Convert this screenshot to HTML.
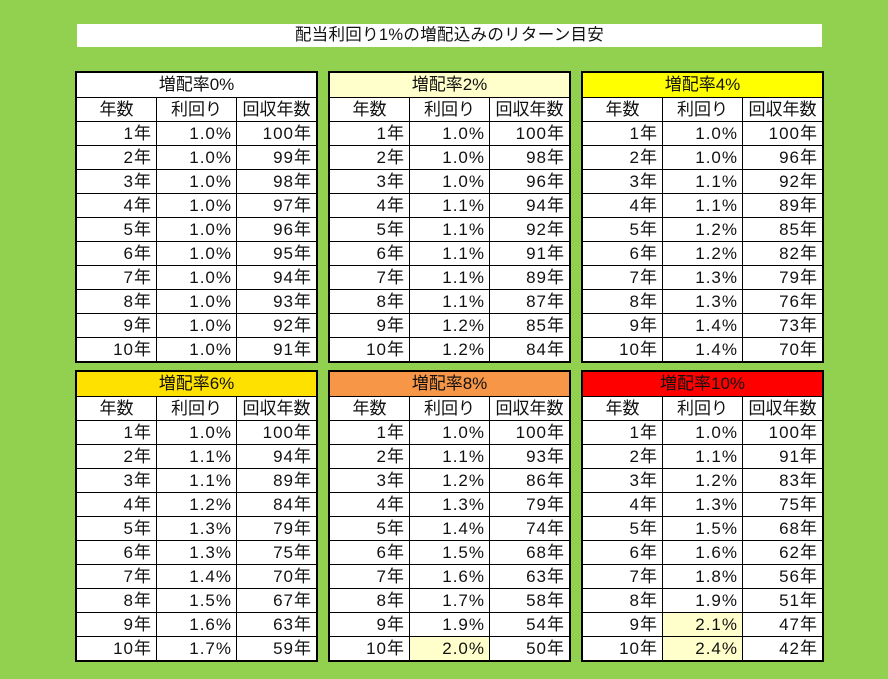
<!DOCTYPE html>
<html><head><meta charset="utf-8">
<style>
html,body{margin:0;padding:0}
body{width:888px;height:679px;background:#92D050;position:relative;overflow:hidden;font-family:"Liberation Sans","Noto Sans CJK JP",sans-serif;color:#111}
.title{position:absolute;left:77px;top:24px;width:745px;height:23px;background:#fff;text-align:center;font-size:16.5px;line-height:23px;letter-spacing:0.3px}
.t{position:absolute;width:243px;height:292px;border:2px solid #000;box-sizing:border-box;background:#fff}
.h{height:24px;line-height:24px;text-align:center;font-size:17px;box-sizing:border-box}
.r{display:flex;height:24px;border-top:1px solid #000;box-sizing:border-box}
.r div{box-sizing:border-box;line-height:23px;font-size:17px;text-align:right;padding-right:4px;letter-spacing:1px}
.r div:nth-child(1){width:79px}
.r div:nth-child(2){width:80px;border-left:1px solid #000}
.r div:nth-child(3){width:80px;border-left:1px solid #000}
.r.c div{text-align:center;padding-right:0;letter-spacing:0}
.hl{background:#FFFFCC}
</style></head><body>
<div class="title">配当利回り1%の増配込みのリターン目安</div>

<div class="t" style="left:75px;top:71px">
<div class="h">増配率0%</div>
<div class="r c"><div>年数</div><div>利回り</div><div>回収年数</div></div>
<div class="r"><div>1年</div><div>1.0%</div><div>100年</div></div>
<div class="r"><div>2年</div><div>1.0%</div><div>99年</div></div>
<div class="r"><div>3年</div><div>1.0%</div><div>98年</div></div>
<div class="r"><div>4年</div><div>1.0%</div><div>97年</div></div>
<div class="r"><div>5年</div><div>1.0%</div><div>96年</div></div>
<div class="r"><div>6年</div><div>1.0%</div><div>95年</div></div>
<div class="r"><div>7年</div><div>1.0%</div><div>94年</div></div>
<div class="r"><div>8年</div><div>1.0%</div><div>93年</div></div>
<div class="r"><div>9年</div><div>1.0%</div><div>92年</div></div>
<div class="r"><div>10年</div><div>1.0%</div><div>91年</div></div>
</div>

<div class="t" style="left:328px;top:71px">
<div class="h" style="background:#FFFFCC">増配率2%</div>
<div class="r c"><div>年数</div><div>利回り</div><div>回収年数</div></div>
<div class="r"><div>1年</div><div>1.0%</div><div>100年</div></div>
<div class="r"><div>2年</div><div>1.0%</div><div>98年</div></div>
<div class="r"><div>3年</div><div>1.0%</div><div>96年</div></div>
<div class="r"><div>4年</div><div>1.1%</div><div>94年</div></div>
<div class="r"><div>5年</div><div>1.1%</div><div>92年</div></div>
<div class="r"><div>6年</div><div>1.1%</div><div>91年</div></div>
<div class="r"><div>7年</div><div>1.1%</div><div>89年</div></div>
<div class="r"><div>8年</div><div>1.1%</div><div>87年</div></div>
<div class="r"><div>9年</div><div>1.2%</div><div>85年</div></div>
<div class="r"><div>10年</div><div>1.2%</div><div>84年</div></div>
</div>

<div class="t" style="left:581px;top:71px">
<div class="h" style="background:#FFFF00">増配率4%</div>
<div class="r c"><div>年数</div><div>利回り</div><div>回収年数</div></div>
<div class="r"><div>1年</div><div>1.0%</div><div>100年</div></div>
<div class="r"><div>2年</div><div>1.0%</div><div>96年</div></div>
<div class="r"><div>3年</div><div>1.1%</div><div>92年</div></div>
<div class="r"><div>4年</div><div>1.1%</div><div>89年</div></div>
<div class="r"><div>5年</div><div>1.2%</div><div>85年</div></div>
<div class="r"><div>6年</div><div>1.2%</div><div>82年</div></div>
<div class="r"><div>7年</div><div>1.3%</div><div>79年</div></div>
<div class="r"><div>8年</div><div>1.3%</div><div>76年</div></div>
<div class="r"><div>9年</div><div>1.4%</div><div>73年</div></div>
<div class="r"><div>10年</div><div>1.4%</div><div>70年</div></div>
</div>

<div class="t" style="left:75px;top:370px">
<div class="h" style="background:#FFE100">増配率6%</div>
<div class="r c"><div>年数</div><div>利回り</div><div>回収年数</div></div>
<div class="r"><div>1年</div><div>1.0%</div><div>100年</div></div>
<div class="r"><div>2年</div><div>1.1%</div><div>94年</div></div>
<div class="r"><div>3年</div><div>1.1%</div><div>89年</div></div>
<div class="r"><div>4年</div><div>1.2%</div><div>84年</div></div>
<div class="r"><div>5年</div><div>1.3%</div><div>79年</div></div>
<div class="r"><div>6年</div><div>1.3%</div><div>75年</div></div>
<div class="r"><div>7年</div><div>1.4%</div><div>70年</div></div>
<div class="r"><div>8年</div><div>1.5%</div><div>67年</div></div>
<div class="r"><div>9年</div><div>1.6%</div><div>63年</div></div>
<div class="r"><div>10年</div><div>1.7%</div><div>59年</div></div>
</div>

<div class="t" style="left:328px;top:370px">
<div class="h" style="background:#F79646">増配率8%</div>
<div class="r c"><div>年数</div><div>利回り</div><div>回収年数</div></div>
<div class="r"><div>1年</div><div>1.0%</div><div>100年</div></div>
<div class="r"><div>2年</div><div>1.1%</div><div>93年</div></div>
<div class="r"><div>3年</div><div>1.2%</div><div>86年</div></div>
<div class="r"><div>4年</div><div>1.3%</div><div>79年</div></div>
<div class="r"><div>5年</div><div>1.4%</div><div>74年</div></div>
<div class="r"><div>6年</div><div>1.5%</div><div>68年</div></div>
<div class="r"><div>7年</div><div>1.6%</div><div>63年</div></div>
<div class="r"><div>8年</div><div>1.7%</div><div>58年</div></div>
<div class="r"><div>9年</div><div>1.9%</div><div>54年</div></div>
<div class="r"><div>10年</div><div class="hl">2.0%</div><div>50年</div></div>
</div>

<div class="t" style="left:581px;top:370px">
<div class="h" style="background:#FF0000">増配率10%</div>
<div class="r c"><div>年数</div><div>利回り</div><div>回収年数</div></div>
<div class="r"><div>1年</div><div>1.0%</div><div>100年</div></div>
<div class="r"><div>2年</div><div>1.1%</div><div>91年</div></div>
<div class="r"><div>3年</div><div>1.2%</div><div>83年</div></div>
<div class="r"><div>4年</div><div>1.3%</div><div>75年</div></div>
<div class="r"><div>5年</div><div>1.5%</div><div>68年</div></div>
<div class="r"><div>6年</div><div>1.6%</div><div>62年</div></div>
<div class="r"><div>7年</div><div>1.8%</div><div>56年</div></div>
<div class="r"><div>8年</div><div>1.9%</div><div>51年</div></div>
<div class="r"><div>9年</div><div class="hl">2.1%</div><div>47年</div></div>
<div class="r"><div>10年</div><div class="hl">2.4%</div><div>42年</div></div>
</div>
</body></html>
